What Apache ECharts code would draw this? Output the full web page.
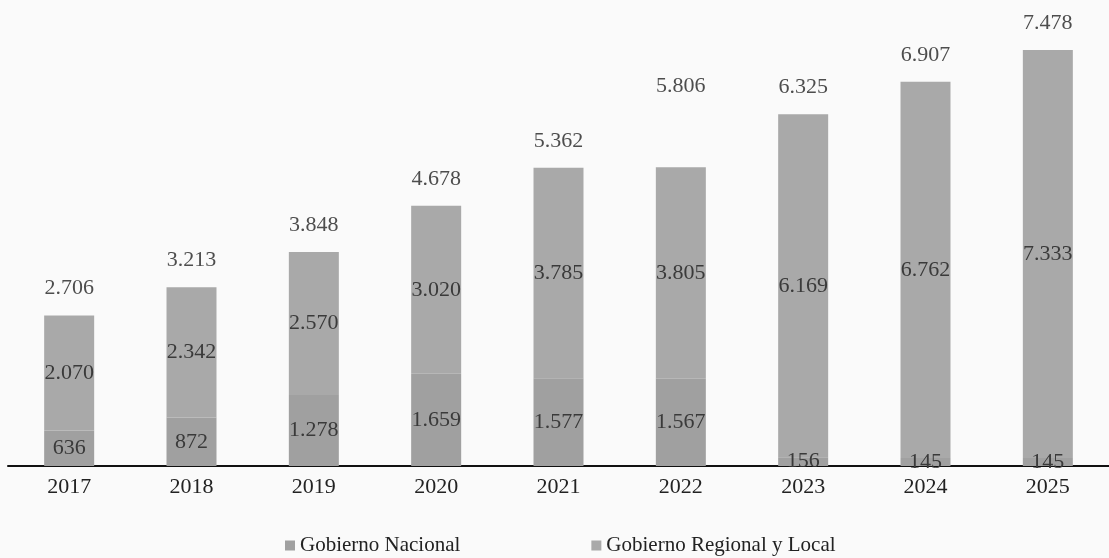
<!DOCTYPE html>
<html>
<head>
<meta charset="utf-8">
<script src="https://cdn.jsdelivr.net/npm/echarts@6/dist/echarts.min.js"></script>
<style>
html,body{margin:0;padding:0;background:#fafafa;}
#chart{width:1109px;height:558px;}
</style>
</head>
<body>
<div id="chart"></div>
<script>
const years = ['2017','2018','2019','2020','2021','2022','2023','2024','2025'];
const gobiernoNacional = [636, 872, 1278, 1659, 1577, 1567, 156, 145, 145];
const gobiernoRegionalLocal = [2070, 2342, 2570, 3020, 3785, 3805, 6169, 6762, 7333];
const totals = [2706, 3213, 3848, 4678, 5362, 5806, 6325, 6907, 7478];

function fmt(v){
  return String(v).replace(/\B(?=(\d{3})+(?!\d))/g, '.');
}
const serif = '"Liberation Serif", "DejaVu Serif", serif';

const chart = echarts.init(document.getElementById('chart'));
chart.setOption({
  backgroundColor: '#fafafa',
  animation: false,
  grid: {left: 8, right: -8, top: 21, bottom: 92},
  legend: {
    bottom: -3,
    left: 280,
    itemWidth: 10,
    itemHeight: 10,
    itemGap: 131,
    icon: 'rect',
    textStyle: {fontFamily: serif, fontSize: 21, color: '#222'},
    data: ['Gobierno Nacional', 'Gobierno Regional y Local']
  },
  xAxis: {
    type: 'category',
    data: years,
    axisLine: {lineStyle: {color: '#111', width: 2}},
    axisTick: {show: false},
    axisLabel: {fontFamily: serif, fontSize: 22, color: '#222', margin: 10}
  },
  yAxis: {
    type: 'value',
    min: 0,
    max: 8000,
    show: false,
    splitLine: {show: false}
  },
  series: [
    {
      name: 'Gobierno Nacional',
      type: 'bar',
      stack: 'total',
      barWidth: 50,
      data: gobiernoNacional,
      itemStyle: {color: '#a0a0a0'},
      label: {show: true, position: 'inside', fontFamily: serif, fontSize: 22, color: '#3a3a3a', formatter: p => fmt(p.value)},
      z: 2
    },
    {
      name: 'Gobierno Regional y Local',
      type: 'bar',
      stack: 'total',
      barWidth: 50,
      data: gobiernoRegionalLocal,
      itemStyle: {color: '#a9a9a9'},
      label: {show: true, position: 'inside', fontFamily: serif, fontSize: 22, color: '#3a3a3a', formatter: p => fmt(p.value)},
      z: 2
    },
    {
      name: 'Total',
      type: 'scatter',
      symbolSize: 0,
      data: totals.map((v, i) => years[i] === '2022'
        ? {value: v, label: {offset: [0, -30]}}
        : v),
      label: {show: true, position: 'top', distance: 16, fontFamily: serif, fontSize: 22, color: '#222', formatter: p => fmt(totals[p.dataIndex])},
      z: 5
    }
  ]
});
</script>
</body>
</html>
